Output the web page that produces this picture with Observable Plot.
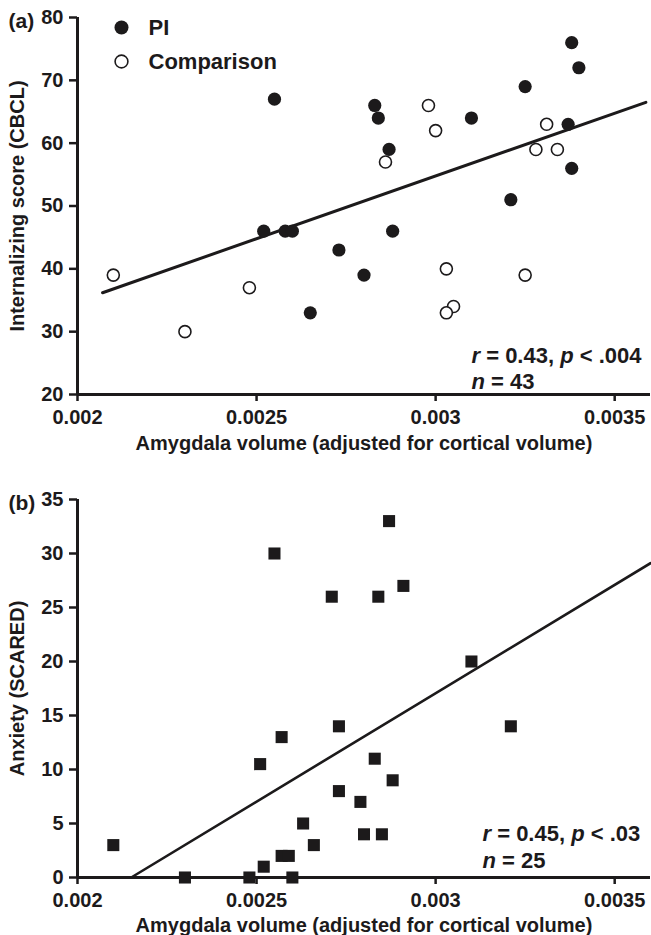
<!DOCTYPE html>
<html>
<head>
<meta charset="utf-8">
<script src="https://cdn.jsdelivr.net/npm/d3@7"></script>
<script src="https://cdn.jsdelivr.net/npm/@observablehq/plot@0.6"></script>
<style>
  html, body { margin: 0; padding: 0; background: #fff; }
  #chart { width: 651px; }
  #chart svg { display: block; }
</style>
</head>
<body>
<div id="chart"></div>
<script>
// ---------- data ----------
const xTicks = [0.002, 0.0025, 0.003, 0.0035];
const yTicksA = [20, 30, 40, 50, 60, 70, 80];
const yTicksB = [0, 5, 10, 15, 20, 25, 30, 35];

// Panel (a): PI (filled) and Comparison (open)
const piX = [0.00255, 0.00252, 0.00258, 0.0026, 0.00265, 0.00338, 0.0034, 0.00325, 0.00283, 0.00284, 0.0031, 0.00337, 0.00287, 0.00338, 0.00321, 0.00288, 0.00273, 0.0028];
const piY = [67, 46, 46, 46, 33, 76, 72, 69, 66, 64, 64, 63, 59, 56, 51, 46, 43, 39];
const compX = [0.0021, 0.0023, 0.00248, 0.00298, 0.003, 0.00331, 0.00328, 0.00334, 0.00286, 0.00303, 0.00325, 0.00305, 0.00303];
const compY = [39, 30, 37, 66, 62, 63, 59, 59, 57, 40, 39, 34, 33];
const fitAX = [0.00207, 0.003587];
const fitAY = [36.2, 66.5];

// Panel (b): anxiety
const anxX = [0.0021, 0.0023, 0.00248, 0.00252, 0.00257, 0.00259, 0.0026, 0.00263, 0.00266, 0.00251, 0.00257, 0.00255, 0.00271, 0.00287, 0.00284, 0.00291, 0.0031, 0.00273, 0.00321, 0.00283, 0.00288, 0.00273, 0.00279, 0.0028, 0.00285];
const anxY = [3, 0, 0, 1, 2, 2, 0, 5, 3, 10.5, 13, 30, 26, 33, 26, 27, 20, 14, 14, 11, 9, 8, 7, 4, 4];
const fitBX = [0.00215, 0.0036];
const fitBY = [0, 29.1];

const xLabel = "Amygdala volume (adjusted for cortical volume)";
const yLabelA = "Internalizing score (CBCL)";
const yLabelB = "Anxiety (SCARED)";
const statsA = ["r = 0.43, p < .004", "n = 43"];
const statsB = ["r = 0.45, p < .03", "n = 25"];
const legendLabels = ["PI", "Comparison"];

// ---------- helpers ----------
const INK = "#1c1a1b";
const FONT = "'Liberation Sans', Arial, Helvetica, sans-serif";
const STYLE = {fontFamily: FONT, fontWeight: "bold", fontSize: "20px", color: INK, background: "#fff"};
const zip = (xs, ys) => xs.map((x, i) => ({x, y: ys[i]}));

function axes(yTicks) {
  return [
    Plot.axisX({ticks: xTicks, tickFormat: d => String(d), tickSize: 7, tickPadding: 8,
      strokeWidth: 2.5, fontSize: 20, fontWeight: "bold", label: null, stroke: INK, fill: INK}),
    Plot.axisY({ticks: yTicks, tickFormat: d => String(d), tickSize: 8, tickPadding: 6,
      strokeWidth: 2.5, fontSize: 20, fontWeight: "bold", label: null, stroke: INK, fill: INK}),
  ];
}

function italicize(svg) {
  d3.select(svg).selectAll("text").each(function () {
    const t = this.textContent;
    if (/^[rn] = /.test(t)) {
      const html = t
        .replace("<", "&lt;")
        .replace(/^([rn])/, '<tspan font-style="italic">$1</tspan>')
        .replace(/, p /, ', <tspan font-style="italic">p</tspan> ');
      this.innerHTML = html;
    }
  });
}

const txt = {fontWeight: "bold", fill: INK};

// ---------- panel (a) ----------
const plotA = Plot.plot({
  width: 651, height: 460,
  marginLeft: 77, marginRight: 1, marginTop: 17, marginBottom: 66,
  style: STYLE,
  x: {domain: [0.002, 0.0036]},
  y: {domain: [20, 80]},
  marks: [
    ...axes(yTicksA),
    Plot.ruleY([20], {stroke: INK, strokeWidth: 3}),
    Plot.ruleX([0.002], {stroke: INK, strokeWidth: 3}),
    Plot.line(zip(fitAX, fitAY), {x: "x", y: "y", stroke: INK, strokeWidth: 3}),
    Plot.dot(zip(compX, compY), {x: "x", y: "y", r: 6, fill: "#fff", stroke: INK, strokeWidth: 1.6}),
    Plot.dot(zip(piX, piY), {x: "x", y: "y", r: 6.6, fill: INK, stroke: "none"}),
    // legend
    Plot.dot([legendLabels[0]], {frameAnchor: "top-left", dx: 44, dy: 10, r: 7, fill: INK}),
    Plot.dot([legendLabels[1]], {frameAnchor: "top-left", dx: 44, dy: 44, r: 6.4, fill: "#fff", stroke: INK, strokeWidth: 1.6}),
    Plot.text([legendLabels[0]], {frameAnchor: "top-left", dx: 71, dy: 10, textAnchor: "start", lineAnchor: "middle", fontSize: 22, ...txt}),
    Plot.text([legendLabels[1]], {frameAnchor: "top-left", dx: 71, dy: 44, textAnchor: "start", lineAnchor: "middle", fontSize: 22, ...txt}),
    // stats
    Plot.text([statsA[0]], {frameAnchor: "bottom-left", dx: 394, dy: -32, textAnchor: "start", lineAnchor: "bottom", fontSize: 22, ...txt}),
    Plot.text([statsA[1]], {frameAnchor: "bottom-left", dx: 394, dy: -6, textAnchor: "start", lineAnchor: "bottom", fontSize: 22, ...txt}),
    // labels
    Plot.text(["(a)"], {frameAnchor: "top-left", dx: -69, dy: 10, textAnchor: "start", lineAnchor: "bottom", fontSize: 21, ...txt}),
    Plot.text([xLabel], {frameAnchor: "bottom", dy: 49, textAnchor: "middle", lineAnchor: "middle", fontSize: 20, ...txt}),
    Plot.text([yLabelA], {frameAnchor: "left", dx: -60, rotate: -90, textAnchor: "middle", lineAnchor: "middle", fontSize: 20, ...txt}),
  ]
});

// ---------- panel (b) ----------
const plotB = Plot.plot({
  width: 651, height: 475,
  marginLeft: 77, marginRight: 1, marginTop: 39, marginBottom: 58,
  style: STYLE,
  x: {domain: [0.002, 0.0036]},
  y: {domain: [0, 35]},
  marks: [
    ...axes(yTicksB),
    Plot.ruleY([0], {stroke: INK, strokeWidth: 3}),
    Plot.ruleX([0.002], {stroke: INK, strokeWidth: 3}),
    Plot.line(zip(fitBX, fitBY), {x: "x", y: "y", stroke: INK, strokeWidth: 2.6}),
    Plot.dot(zip(anxX, anxY), {x: "x", y: "y", symbol: "square", r: 6.8, fill: INK, stroke: "none"}),
    Plot.text([statsB[0]], {frameAnchor: "bottom-left", dx: 405, dy: -37, textAnchor: "start", lineAnchor: "bottom", fontSize: 22, ...txt}),
    Plot.text([statsB[1]], {frameAnchor: "bottom-left", dx: 405, dy: -10, textAnchor: "start", lineAnchor: "bottom", fontSize: 22, ...txt}),
    Plot.text(["(b)"], {frameAnchor: "top-left", dx: -69, dy: 10, textAnchor: "start", lineAnchor: "bottom", fontSize: 21, ...txt}),
    Plot.text([xLabel], {frameAnchor: "bottom", dy: 48, textAnchor: "middle", lineAnchor: "middle", fontSize: 20, ...txt}),
    Plot.text([yLabelB], {frameAnchor: "left", dx: -60, rotate: -90, textAnchor: "middle", lineAnchor: "middle", fontSize: 20, ...txt}),
  ]
});

italicize(plotA);
italicize(plotB);
const chart = document.getElementById("chart");
chart.append(plotA, plotB);
</script>
</body>
</html>
